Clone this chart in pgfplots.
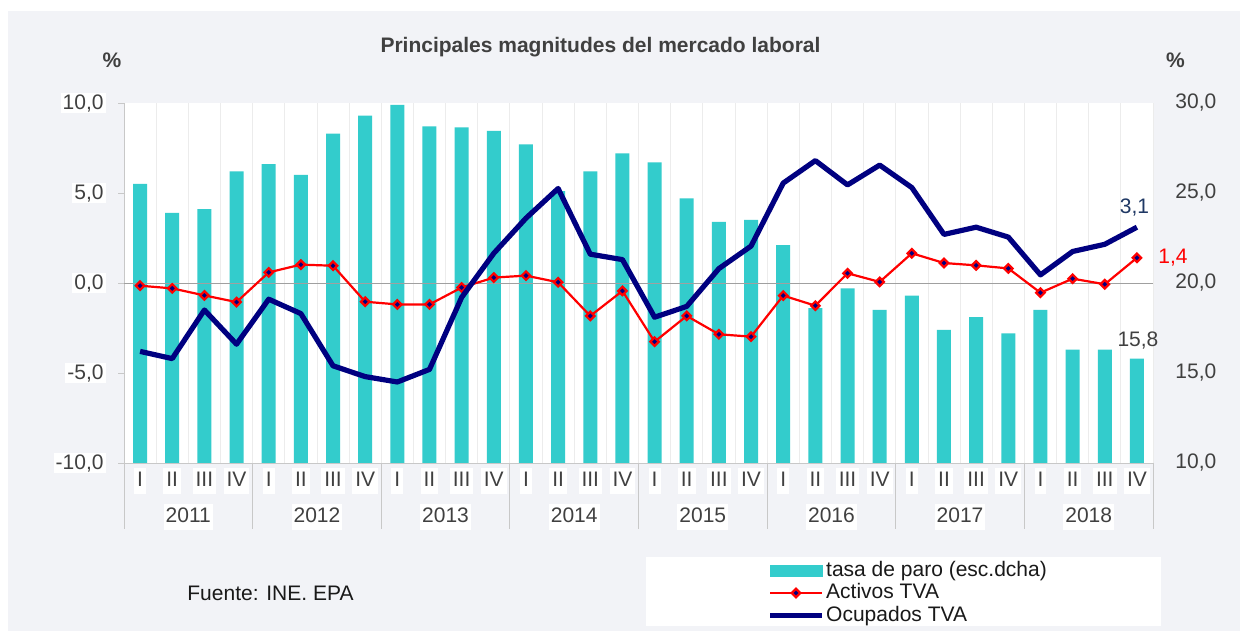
\documentclass[border=0pt]{standalone}
\usepackage{pgfplots}
\pgfplotsset{compat=1.18}
\usepackage{pgfplotstable}
\usepackage{fontspec}
\setmainfont{Liberation Sans}
\definecolor{bgg}{RGB}{242,243,247}
\definecolor{turq}{RGB}{51,204,204}
\definecolor{navyc}{RGB}{0,0,128}
\definecolor{txt}{RGB}{64,64,64}
\definecolor{lbl}{RGB}{31,56,100}
\definecolor{gridc}{RGB}{236,236,236}
\definecolor{sepc}{RGB}{200,200,200}
\pgfplotstableread{
i paro act ocu
0 25.5 -0.15 -3.8
1 23.9 -0.30 -4.2
2 24.1 -0.69 -1.5
3 26.2 -1.06 -3.4
4 26.6 0.59 -0.9
5 26.0 1.02 -1.7
6 28.3 0.96 -4.6
7 29.3 -1.04 -5.2
8 29.9 -1.19 -5.5
9 28.7 -1.19 -4.8
10 28.65 -0.25 -0.8
11 28.45 0.30 1.65
12 27.7 0.41 3.6
13 25.1 0.04 5.25
14 26.2 -1.83 1.6
15 27.2 -0.44 1.3
16 26.7 -3.26 -1.9
17 24.7 -1.83 -1.3
18 23.4 -2.85 0.8
19 23.5 -2.98 2.05
20 22.1 -0.70 5.55
21 18.6 -1.26 6.8
22 19.7 0.54 5.45
23 18.5 0.06 6.55
24 19.3 1.65 5.3
25 17.4 1.11 2.7
26 18.1 0.98 3.1
27 17.2 0.81 2.55
28 18.5 -0.54 0.45
29 16.3 0.24 1.75
30 16.3 -0.07 2.15
31 15.8 1.4 3.1
}\data
\begin{document}
\begin{tikzpicture}[font=\fontsize{10.5}{12.6}\selectfont]
\path[use as bounding box] (0,0) rectangle (620pt,315.5pt);
\fill[white] (0,0) rectangle (620pt,315.5pt);
\fill[bgg] (4pt,0) rectangle (620pt,310pt);
\fill[white] (323pt,2.5pt) rectangle (580.5pt,37pt);
\node[font=\fontsize{10.5}{12.6}\selectfont\bfseries, text=txt] at (300.25pt,292pt) {Principales magnitudes del mercado laboral};
\node[font=\fontsize{10.5}{12.6}\selectfont\bfseries, text=txt] at (56pt,285.5pt) {\%};
\node[font=\fontsize{10.5}{12.6}\selectfont\bfseries, text=txt] at (587.75pt,285.5pt) {\%};
\node[anchor=west, text=black!90, inner sep=0pt] at (93.5pt,19pt) {Fuente: INE. EPA};
\begin{axis}[
  at={(62pt,84pt)}, anchor=south west, scale only axis,
  width=514.5pt, height=180pt,
  xmin=-0.5, xmax=31.5, ymin=10, ymax=30,
  axis x line*=bottom, axis y line*=right,
  x axis line style={draw=sepc,-}, y axis line style={draw=none},
  axis background/.style={fill=white},
  clip mode=individual,
  xtick={0,...,31},
  xticklabels={I,II,III,IV,I,II,III,IV,I,II,III,IV,I,II,III,IV,I,II,III,IV,I,II,III,IV,I,II,III,IV,I,II,III,IV},
  xtick style={draw=none},
  xticklabel style={anchor=center, yshift=-9pt, fill=white, text=txt, inner xsep=1.5pt, inner ysep=1pt, text height=8.5pt, text depth=2.5pt},
  minor xtick={-0.5,0.5,...,31.5},
  minor tick length=0pt,
  xminorgrids, minor x grid style={gridc},
  ytick={10,15,20,25,30},
  ytick style={draw=none},
  yticklabel={\pgfmathprintnumber[fixed,fixed zerofill,precision=1,use comma,assume math mode=true]{\tick}},
  yticklabel style={anchor=west, xshift=11pt, inner sep=0pt, text=txt},
]
\addplot[ybar, bar width=7pt, fill=turq, draw=none] table[x=i,y=paro]{\data};
\pgfplotsinvokeforeach{-0.5,3.5,7.5,11.5,15.5,19.5,23.5,27.5,31.5}{
  \draw[sepc] (axis cs:#1,10) -- ([yshift=-33pt]axis cs:#1,10);
}
\node[fill=white, text=txt, inner xsep=1pt, inner ysep=1pt, text height=8.5pt, text depth=2.5pt] at ([yshift=-27pt]axis cs:1.5,10) {2011};
\node[fill=white, text=txt, inner xsep=1pt, inner ysep=1pt, text height=8.5pt, text depth=2.5pt] at ([yshift=-27pt]axis cs:5.5,10) {2012};
\node[fill=white, text=txt, inner xsep=1pt, inner ysep=1pt, text height=8.5pt, text depth=2.5pt] at ([yshift=-27pt]axis cs:9.5,10) {2013};
\node[fill=white, text=txt, inner xsep=1pt, inner ysep=1pt, text height=8.5pt, text depth=2.5pt] at ([yshift=-27pt]axis cs:13.5,10) {2014};
\node[fill=white, text=txt, inner xsep=1pt, inner ysep=1pt, text height=8.5pt, text depth=2.5pt] at ([yshift=-27pt]axis cs:17.5,10) {2015};
\node[fill=white, text=txt, inner xsep=1pt, inner ysep=1pt, text height=8.5pt, text depth=2.5pt] at ([yshift=-27pt]axis cs:21.5,10) {2016};
\node[fill=white, text=txt, inner xsep=1pt, inner ysep=1pt, text height=8.5pt, text depth=2.5pt] at ([yshift=-27pt]axis cs:25.5,10) {2017};
\node[fill=white, text=txt, inner xsep=1pt, inner ysep=1pt, text height=8.5pt, text depth=2.5pt] at ([yshift=-27pt]axis cs:29.5,10) {2018};
\node[text=txt] at ([xshift=0.5pt,yshift=9pt]axis cs:31,15.8) {15,8};
\end{axis}
\begin{axis}[
  at={(62pt,84pt)}, anchor=south west, scale only axis,
  width=514.5pt, height=180pt,
  xmin=-0.5, xmax=31.5, ymin=-10, ymax=10,
  hide x axis,
  axis y line*=left,
  y axis line style={draw=sepc,-},
  ytick={-10,-5,0,5,10},
  tick align=outside, major tick length=3pt,
  ytick style={draw=sepc},
  yticklabel={\pgfmathprintnumber[fixed,fixed zerofill,precision=1,use comma,assume math mode=true]{\tick}},
  yticklabel style={anchor=east, xshift=-6pt, fill=white, text=txt, inner xsep=1pt, inner ysep=0.5pt, text height=7.8pt, text depth=1.5pt},
  clip mode=individual,
  legend style={at={(axis description cs:0.6249,-0.2667)}, anchor=north west, draw=none, fill=none, inner sep=0pt, row sep=0pt,
    nodes={inner sep=0.8pt, text height=7.6pt, text depth=2pt, text=black!90}},
  legend cell align=left,
  legend image code/.code={\draw[mark repeat=2,mark phase=2,#1] plot coordinates {(0pt,0pt) (13pt,0pt) (26pt,0pt)};},
]
\addlegendimage{legend image code/.code={\fill[turq] (0pt,-2.75pt) rectangle (26pt,2.75pt);}}
\addlegendentry{tasa de paro (esc.dcha)}
\addplot[forget plot, draw=sepc!80!black] coordinates {(-0.5,0) (31.5,0)};
\addplot[red, line width=1.1pt, mark=square*, mark size=1.5pt, mark options={rotate=45, fill=navyc, draw=red, line width=1.1pt}] table[x=i,y=act]{\data};
\addlegendentry{Activos TVA}
\addplot[navyc, line width=2.6pt, line join=round] table[x=i,y=ocu]{\data};
\addlegendentry{Ocupados TVA}
\node[text=lbl] at ([xshift=-1.25pt,yshift=9.6pt]axis cs:31,3.1) {3,1};
\node[text=red] at ([xshift=18pt,yshift=0pt]axis cs:31,1.4) {1,4};
\end{axis}
\end{tikzpicture}
\end{document}
